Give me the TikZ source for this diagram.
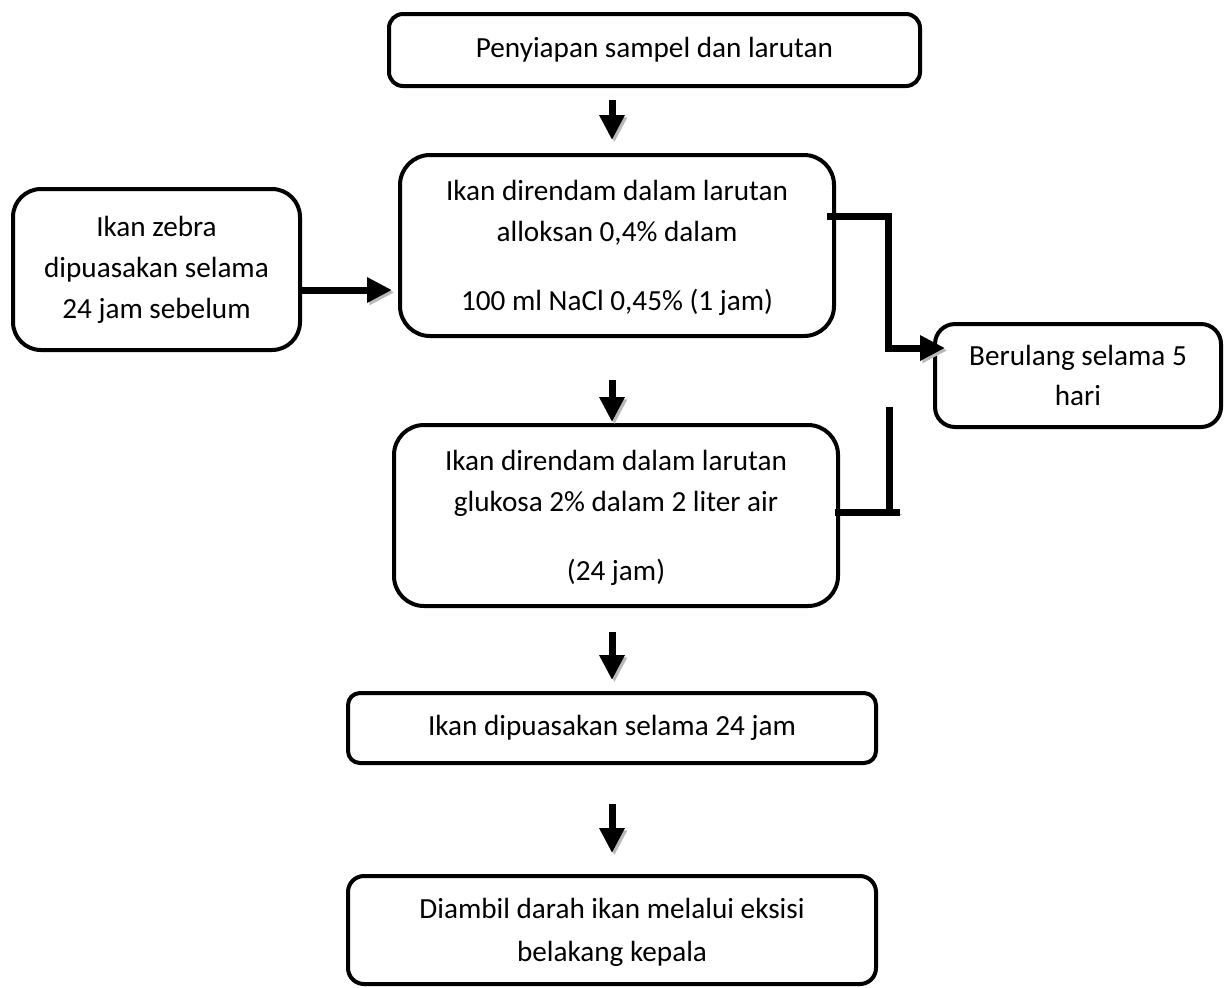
\documentclass[tikz,border=0pt]{standalone}
\usepackage{fontspec}
\setmainfont{Carlito}
\usetikzlibrary{arrows.meta, calc}
\tikzset{
    stepbox/.style={draw, fill=white, line width=2pt, align=center, inner sep=0pt,
        font=\fontsize{14.6}{20.5}\selectfont},
    shade/.style={preaction={draw=gray!55, transform canvas={shift={(1.2pt,-1.2pt)}}}},
    flow/.style={line width=3.5pt, -{Triangle[length=12.5pt, width=12pt]}, shade},
    bar/.style={line width=3.5pt, shade}
}

\begin{document}
\begin{tikzpicture}[x=0.5pt, y=-0.5pt]
            \useasboundingbox (0,0) rectangle (1225,987);

            % Main column
            \node[stepbox, minimum width=265.5pt, minimum height=36pt, rounded corners=7pt] (prep) at (654.5,50) {Penyiapan sampel dan larutan};
            \node[stepbox, text depth=0pt, minimum width=217pt, minimum height=90.5pt, rounded corners=15pt] (alloksan) at (617,245.5) {Ikan direndam dalam larutan\\alloksan 0,4\% dalam\\[14pt]100 ml NaCl 0,45\% (1 jam)};
            \node[stepbox, text depth=0pt, minimum width=222pt, minimum height=90.5pt, rounded corners=15pt] (glukosa) at (616,515.5) {Ikan direndam dalam larutan\\glukosa 2\% dalam 2 liter air\\[14pt](24 jam)};
            \node[stepbox, minimum width=264pt, minimum height=35pt, rounded corners=6pt] (puasa) at (612,728) {Ikan dipuasakan selama 24 jam};
            \node[stepbox, text depth=0pt, minimum width=264pt, minimum height=54pt, rounded corners=8pt] (darah) at (612,930) {Diambil darah ikan melalui eksisi\\[1pt]belakang kepala};

            % Side boxes
            \node[stepbox, minimum width=143.5pt, minimum height=80.5pt, rounded corners=14pt] (zebra) at (156.5,269.5) {Ikan zebra\\dipuasakan selama\\24 jam sebelum};
            \node[stepbox, minimum width=143pt, minimum height=51.5pt, rounded corners=10pt] (ulang) at (1078,375.5) {Berulang selama 5\\[-0.5pt]hari};

            % Down arrows
            \foreach \a/\b/\s/\e in {prep/alloksan/6pt/6.5pt, alloksan/glukosa/21pt/0.5pt, glukosa/puasa/12pt/5.5pt, puasa/darah/19.5pt/10.5pt} {
                \draw[flow, shorten <=\s, shorten >=\e] (puasa |- \a.south) -- (puasa |- \b.north);
            }

            % Side arrows
            \draw[flow, shorten >=3pt] (zebra.east |- 0,290) -- (alloksan.west |- 0,290);

            \coordinate (turn) at (888,348);
            \draw[flow, shorten >=-6pt] ([xshift=-4.5pt]alloksan.east |- 0,216) -| (turn) -- (ulang.west |- turn);

            % Return bracket
            \coordinate (back) at (889,407);
            \draw[bar] (back) -- (back |- 0,512);
            \draw[bar] ([xshift=-2.5pt]glukosa.east |- 0,512) -- ++(65,0);
        \end{tikzpicture}
\end{document}
